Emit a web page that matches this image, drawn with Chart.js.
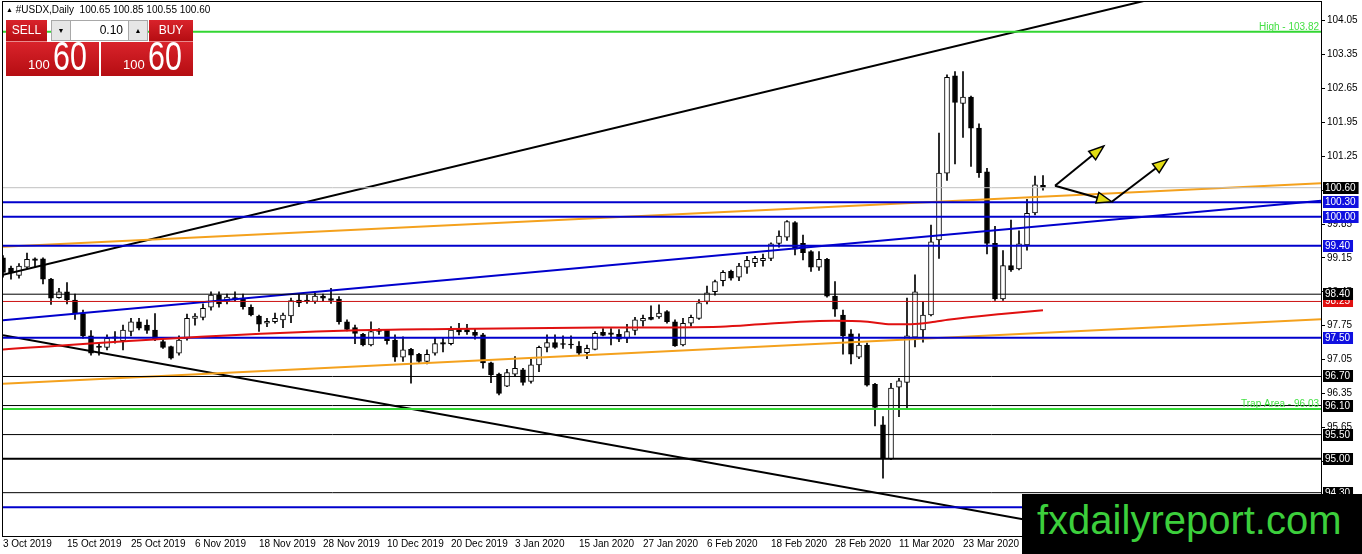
<!DOCTYPE html>
<html>
<head>
<meta charset="utf-8">
<title>#USDX,Daily</title>
<script src="https://cdn.jsdelivr.net/npm/chart.js@4.4.0/dist/chart.umd.min.js"></script>
<style>
  html, body { margin: 0; padding: 0; background: #fff; overflow: hidden; }
  #wrap { position: relative; width: 1362px; height: 554px; font-family: "Liberation Sans", Arial, sans-serif; }
  #chart { position: absolute; left: 0; top: 0; }
  .hdr { position: absolute; left: 6px; top: 5px; font-size: 10px; line-height: 10px; color: #000; white-space: pre; }
  .hdr .tri { font-size: 7px; vertical-align: 1px; }
  .red { position: absolute; background: linear-gradient(#d9232b, #b50d12); color: #fff; }
  .btn { top: 20px; height: 21px; font-size: 12px; line-height: 21px; text-align: center; border-bottom: 1px solid #e98a8d; }
  .spin { position: absolute; top: 20px; width: 18px; height: 19px; background: #e6e6e6; border: 1px solid #a8a8a8; font-size: 7px; line-height: 19px; text-align: center; color: #000; }
  .lot { position: absolute; top: 20px; left: 70px; width: 52px; height: 19px; background: #fff; border: 1px solid #a8a8a8; font-size: 12px; line-height: 19px; text-align: right; padding-right: 5px; }
  .px { top: 42px; height: 34px; }
  .px .s { position: absolute; left: 22px; top: 16px; font-size: 13px; line-height: 13px; }
  .px .b { position: absolute; left: 47px; top: -6px; font-size: 40px; line-height: 40px; transform: scaleX(0.76); transform-origin: 0 0; }
  .wm { position: absolute; left: 1022px; top: 494px; width: 340px; height: 60px; background: #000; }
  .wm span { position: absolute; left: 15px; top: 6px; font-size: 40px; line-height: 40px; color: #3ccf3c; }
</style>
</head>
<body>
<div id="wrap">
  <canvas id="chart" width="1362" height="554"></canvas>
  <div class="hdr"><span class="tri">▲</span> #USDX,Daily  100.65 100.85 100.55 100.60</div>
  <div class="red btn" style="left:6px;width:41px;">SELL</div>
  <div class="spin" style="left:51px;">▼</div>
  <div class="lot">0.10</div>
  <div class="spin" style="left:128px;">▲</div>
  <div class="red btn" style="left:149px;width:44px;">BUY</div>
  <div class="red px" style="left:6px;width:93px;"><span class="s">100</span><span class="b">60</span></div>
  <div class="red px" style="left:101px;width:92px;"><span class="s">100</span><span class="b">60</span></div>
  <div class="wm"><span>fxdailyreport.com</span></div>
</div>
<script>
// Daily candles, 3 Oct 2019 .. 3 Apr 2020
const tickLabels = ['3 Oct 2019', '15 Oct 2019', '25 Oct 2019', '6 Nov 2019', '18 Nov 2019', '28 Nov 2019',
    '10 Dec 2019', '20 Dec 2019', '3 Jan 2020', '15 Jan 2020', '27 Jan 2020', '6 Feb 2020',
    '18 Feb 2020', '28 Feb 2020', '11 Mar 2020', '23 Mar 2020'];
const barsPerLabel = 8;

const opens = [99.15, 98.94, 98.79, 98.96, 99.10, 99.13, 98.71, 98.33, 98.45, 98.28,
    98.00, 97.54, 97.30, 97.30, 97.49, 97.44, 97.63, 97.83, 97.76, 97.66,
    97.42, 97.32, 97.18, 97.49, 97.90, 97.92, 98.13, 98.38, 98.25, 98.31,
    98.32, 98.13, 97.95, 97.80, 97.83, 97.87, 97.95, 98.28, 98.26, 98.25,
    98.36, 98.31, 98.30, 97.83, 97.71, 97.57, 97.35, 97.63, 97.66, 97.45,
    97.10, 97.26, 97.16, 97.01, 97.18, 97.37, 97.38, 97.68, 97.67, 97.61,
    97.56, 96.98, 96.75, 96.50, 96.75, 96.84, 96.60, 96.94, 97.30, 97.40,
    97.36, 97.37, 97.33, 97.19, 97.26, 97.61, 97.60, 97.57, 97.49, 97.65,
    97.85, 97.92, 97.93, 98.04, 97.83, 97.35, 97.80, 97.90, 98.25, 98.45,
    98.68, 98.87, 98.75, 98.96, 99.05, 99.09, 99.14, 99.45, 99.58, 99.88,
    99.45, 99.28, 98.96, 99.12, 98.36, 97.97, 97.58, 97.10, 97.35, 96.54,
    95.70, 95.00, 96.48, 96.58, 97.51, 97.66, 97.97, 99.52, 100.90, 102.91,
    102.34, 102.47, 101.83, 100.93, 99.45, 98.30, 98.99, 98.92, 99.42, 100.08,
    100.65];
const highs = [99.20, 98.98, 99.03, 99.25, 99.15, 99.15, 98.73, 98.52, 98.64, 98.40,
    98.07, 97.65, 97.39, 97.56, 97.63, 97.76, 97.90, 97.90, 97.87, 98.00,
    97.47, 97.33, 97.54, 97.99, 98.00, 98.20, 98.45, 98.45, 98.40, 98.45,
    98.40, 98.18, 97.97, 97.90, 98.01, 98.01, 98.32, 98.42, 98.38, 98.42,
    98.40, 98.52, 98.35, 97.87, 97.76, 97.59, 97.83, 97.69, 97.67, 97.56,
    97.52, 97.28, 97.18, 97.25, 97.49, 97.51, 97.73, 97.80, 97.78, 97.69,
    97.59, 97.00, 96.77, 96.85, 97.11, 96.87, 97.06, 97.33, 97.56, 97.56,
    97.54, 97.54, 97.42, 97.35, 97.63, 97.69, 97.69, 97.67, 97.78, 97.92,
    97.97, 98.16, 98.18, 98.06, 97.87, 97.90, 97.97, 98.29, 98.57, 98.69,
    98.89, 98.90, 99.04, 99.18, 99.18, 99.23, 99.46, 99.71, 99.92, 99.90,
    99.62, 99.30, 99.28, 99.14, 98.66, 98.07, 97.67, 97.58, 97.39, 96.56,
    95.87, 96.56, 96.66, 98.32, 98.80, 98.25, 99.83, 101.73, 102.93, 103.00,
    103.00, 102.49, 101.92, 101.00, 99.80, 99.30, 99.93, 99.71, 100.36, 100.84,
    100.85];
const lows = [98.75, 98.71, 98.73, 98.94, 98.96, 98.61, 98.19, 98.32, 98.20, 97.88,
    97.49, 97.14, 97.14, 97.25, 97.39, 97.25, 97.54, 97.66, 97.59, 97.44,
    97.28, 97.06, 97.14, 97.45, 97.76, 97.87, 98.07, 98.13, 98.20, 98.25,
    98.09, 97.95, 97.63, 97.73, 97.80, 97.71, 97.81, 98.14, 98.21, 98.21,
    98.25, 98.21, 97.78, 97.64, 97.38, 97.33, 97.33, 97.57, 97.37, 97.01,
    97.01, 96.56, 96.99, 96.96, 97.14, 97.21, 97.35, 97.56, 97.57, 97.47,
    96.87, 96.57, 96.32, 96.49, 96.70, 96.52, 96.56, 96.80, 97.21, 97.28,
    97.28, 97.28, 97.14, 97.07, 97.25, 97.54, 97.35, 97.42, 97.40, 97.56,
    97.74, 97.87, 97.90, 97.80, 97.32, 97.33, 97.74, 97.88, 98.20, 98.38,
    98.57, 98.69, 98.68, 98.83, 98.97, 98.98, 99.09, 99.37, 99.51, 99.21,
    99.11, 98.87, 98.89, 98.34, 97.94, 97.16, 96.96, 97.07, 96.50, 95.68,
    94.60, 94.98, 95.87, 96.04, 97.31, 97.41, 97.95, 99.14, 100.75, 101.09,
    101.64, 101.04, 100.81, 99.23, 98.27, 98.27, 98.87, 98.90, 99.31, 100.04,
    100.55];
const closes = [98.85, 98.84, 98.98, 99.12, 99.13, 98.71, 98.32, 98.45, 98.28, 98.00,
    97.54, 97.18, 97.33, 97.49, 97.52, 97.66, 97.83, 97.70, 97.65, 97.47,
    97.30, 97.08, 97.45, 97.90, 97.95, 98.11, 98.38, 98.20, 98.34, 98.33,
    98.14, 97.97, 97.78, 97.84, 97.90, 97.97, 98.27, 98.22, 98.28, 98.36,
    98.32, 98.27, 97.83, 97.67, 97.59, 97.35, 97.63, 97.66, 97.44, 97.10,
    97.25, 97.14, 97.01, 97.16, 97.38, 97.40, 97.66, 97.62, 97.62, 97.55,
    96.98, 96.73, 96.35, 96.78, 96.87, 96.58, 96.94, 97.30, 97.40, 97.30,
    97.38, 97.35, 97.18, 97.28, 97.59, 97.55, 97.57, 97.47, 97.63, 97.87,
    97.90, 97.88, 98.01, 97.83, 97.33, 97.80, 97.92, 98.22, 98.43, 98.66,
    98.85, 98.73, 98.98, 99.10, 99.14, 99.14, 99.44, 99.60, 99.90, 99.33,
    99.26, 98.96, 99.12, 98.36, 98.09, 97.54, 97.16, 97.35, 96.52, 96.06,
    95.00, 96.46, 96.61, 97.54, 98.45, 97.97, 99.48, 100.90, 102.88, 102.36,
    102.47, 101.83, 100.91, 99.45, 98.30, 98.99, 98.90, 99.44, 100.07, 100.66,
    100.60];

// price scale ticks (MT4 steps of 0.70)
const yTicks = [104.05, 103.35, 102.65, 101.95, 101.25, 100.55, 99.85, 99.15, 98.45,
    97.75, 97.05, 96.35, 95.65, 94.95, 94.25];

// horizontal levels
const blueLevels = [100.30, 100.00, 99.40, 97.50, 94.00];
const blackLevels = [98.40, 96.70, 96.10, 95.50, 94.30];
const supportLevel = 95.00;
const redLevel = 98.25;
const highLevel = 103.82;
const trapLevel = 96.03;
const bidPrice = 100.60;

// trend lines: [bar index, price] pairs
const upperChannel = [[0, 98.80], [150, 104.75]];
const lowerChannel = [[0, 97.55], [150, 93.08]];
const orangeTop = [[0, 99.38], [164.75, 100.69]];
const orangeBottom = [[0, 96.55], [164.75, 97.88]];
const blueTrend = [[0, 97.86], [164.75, 100.33]];

// moving average (red)
const maIdx = [0, 24.7, 43.4, 55.9, 74.7, 89.7, 95.6, 103.9, 108.1, 111, 113.5, 116.5, 118.1, 124.8, 130];
const maVal = [97.26, 97.52, 97.65, 97.68, 97.71, 97.73, 97.79, 97.85, 97.83, 97.78, 97.78, 97.83, 97.87, 97.99, 98.07];

// drawn arrows: [from index, from price, to index, to price]
const arrows = [[131.5, 100.64, 137.6, 101.46], [131.5, 100.64, 138.6, 100.31], [138.6, 100.31, 145.6, 101.19]];

const FONT = '"Liberation Sans", Arial, sans-serif';
const BLUE = '#0000cc';
const GREEN = '#33d633';
const lastSlot = 164.75;
const PAD_TOP = 2;

function seg(points, color, width, extra) {
    return Object.assign({
        type: 'line',
        data: points.map(p => ({ x: p[0], y: p[1] })),
        borderColor: color,
        borderWidth: width,
        pointRadius: 0,
        fill: false,
        order: 0
    }, extra || {});
}
function level(v, color, width) {
    return seg([[0, v], [lastSlot, v]], color, width);
}

const datasets = [
    seg(maIdx.map((x, i) => [x, maVal[i]]), '#e01010', 2, { cubicInterpolationMode: 'monotone' }),
    level(bidPrice, '#c0c0c0', 1),
    level(highLevel, GREEN, 2),
    level(trapLevel, GREEN, 2),
    level(redLevel, '#cc1010', 1),
    level(supportLevel, '#000', 2),
    ...blackLevels.map(v => level(v, '#000', 1)),
    ...blueLevels.map(v => level(v, BLUE, 2)),
    seg(orangeTop, '#f4a11d', 2),
    seg(orangeBottom, '#f4a11d', 2),
    seg(blueTrend, BLUE, 2),
    seg(upperChannel, '#000', 2),
    seg(lowerChannel, '#000', 2),
    {
        type: 'bar',
        data: lows.map((l, i) => ({ x: i, y: [l, highs[i]] })),
        backgroundColor: '#000',
        barThickness: 1,
        grouped: false,
        order: 2
    },
    {
        type: 'bar',
        data: opens.map((o, i) => ({ x: i, y: [Math.min(o, closes[i]), Math.max(o, closes[i])] })),
        backgroundColor: opens.map((o, i) => closes[i] - o > 0.035 ? '#fff' : '#000'),
        borderColor: '#000',
        borderWidth: 1,
        borderSkipped: false,
        barThickness: 5,
        minBarLength: 1,
        grouped: false,
        order: 1
    }
];

// frame, level captions, arrows and price tags on the scale
const mt4Extras = {
    id: 'mt4Extras',
    afterLayout(chart) {
        // keep both scales spanning the whole plot area
        const { x, y } = chart.scales, a = chart.chartArea;
        if (a.top !== PAD_TOP) {
            a.top = PAD_TOP;
            a.height = a.bottom - a.top;
        }
        if (x.left !== a.left || x.right !== a.right) {
            x.left = a.left; x.right = a.right; x.width = a.right - a.left;
            x.configure();
        }
        if (y.top !== a.top || y.bottom !== a.bottom) {
            y.top = a.top; y.bottom = a.bottom; y.height = a.bottom - a.top;
            y.configure();
        }
    },
    afterDatasetsDraw(chart) {
        const { ctx, chartArea: a, scales: { x, y } } = chart;
        ctx.save();
        ctx.font = '10px ' + FONT;
        ctx.fillStyle = '#44e044';
        ctx.textAlign = 'right';
        ctx.textBaseline = 'alphabetic';
        ctx.fillText('High - ' + highLevel.toFixed(2), a.right - 2, y.getPixelForValue(highLevel) - 2);
        ctx.fillText('Trap Area - ' + trapLevel.toFixed(2), a.right - 2, y.getPixelForValue(trapLevel) - 2);

        ctx.strokeStyle = '#000';
        ctx.lineWidth = 2;
        arrows.forEach(ar => {
            const x1 = x.getPixelForValue(ar[0]), y1 = y.getPixelForValue(ar[1]);
            const x2 = x.getPixelForValue(ar[2]), y2 = y.getPixelForValue(ar[3]);
            const ang = Math.atan2(y2 - y1, x2 - x1);
            const len = 15, half = 5.5;
            const bx = x2 - len * Math.cos(ang), by = y2 - len * Math.sin(ang);
            ctx.beginPath();
            ctx.moveTo(x1, y1);
            ctx.lineTo(bx, by);
            ctx.stroke();
            ctx.beginPath();
            ctx.moveTo(x2, y2);
            ctx.lineTo(bx + half * Math.sin(ang), by - half * Math.cos(ang));
            ctx.lineTo(bx - half * Math.sin(ang), by + half * Math.cos(ang));
            ctx.closePath();
            ctx.fillStyle = '#e2dc12';
            ctx.fill();
            ctx.lineWidth = 1.5;
            ctx.stroke();
            ctx.lineWidth = 2;
        });
        ctx.restore();
    },
    afterDraw(chart) {
        const { ctx, chartArea: a, scales: { y } } = chart;
        ctx.save();
        ctx.strokeStyle = '#000';
        ctx.lineWidth = 1;
        ctx.strokeRect(a.left - 0.5, a.top - 0.5, a.right - a.left + 1, a.bottom - a.top + 1);

        ctx.font = '10px ' + FONT;
        ctx.textAlign = 'left';
        ctx.textBaseline = 'middle';
        const tag = (v, bg) => {
            const py = Math.round(y.getPixelForValue(v));
            const w = ctx.measureText(v.toFixed(2)).width + 5;
            ctx.fillStyle = bg;
            ctx.fillRect(a.right + 2, py - 6, w, 12);
            ctx.fillStyle = '#fff';
            ctx.fillText(v.toFixed(2), a.right + 4, py + 0.5);
        };
        tag(redLevel, '#e01010');
        blueLevels.forEach(v => tag(v, '#1010e0'));
        blackLevels.forEach(v => tag(v, '#000'));
        tag(supportLevel, '#000');
        tag(bidPrice, '#000');
        ctx.restore();
    }
};

new Chart(document.getElementById('chart'), {
    type: 'bar',
    data: { datasets: datasets },
    options: {
        responsive: false,
        devicePixelRatio: 1,
        animation: false,
        events: [],
        layout: { autoPadding: false, padding: { top: PAD_TOP, left: 3, right: 0, bottom: 0 } },
        plugins: { legend: { display: false }, tooltip: { enabled: false } },
        scales: {
            x: {
                type: 'linear',
                offset: false,
                min: 0,
                max: lastSlot,
                afterBuildTicks: s => { s.ticks = tickLabels.map((_, k) => ({ value: k * barsPerLabel })); },
                afterFit: s => { s.height = 18; s.paddingLeft = 0; s.paddingRight = 0; },
                grid: { display: false, drawTicks: false, offset: false },
                border: { display: true, color: '#000' },
                ticks: {
                    autoSkip: false,
                    maxRotation: 0,
                    align: 'start',
                    padding: 2,
                    color: '#000',
                    font: { family: FONT, size: 10 },
                    callback: v => tickLabels[Math.round(v / barsPerLabel)]
                }
            },
            y: {
                position: 'right',
                min: 93.405,
                max: 104.436,
                afterBuildTicks: s => { s.ticks = yTicks.map(v => ({ value: v })); },
                afterFit: s => { s.width = 41; s.paddingTop = 0; s.paddingBottom = 0; },
                grid: { drawOnChartArea: false, drawTicks: true, tickLength: 4, color: '#000' },
                border: { display: true, color: '#000' },
                ticks: {
                    padding: 2,
                    color: '#000',
                    font: { family: FONT, size: 10 },
                    callback: v => Number(v).toFixed(2)
                }
            }
        }
    },
    plugins: [mt4Extras]
});
</script>
</body>
</html>
